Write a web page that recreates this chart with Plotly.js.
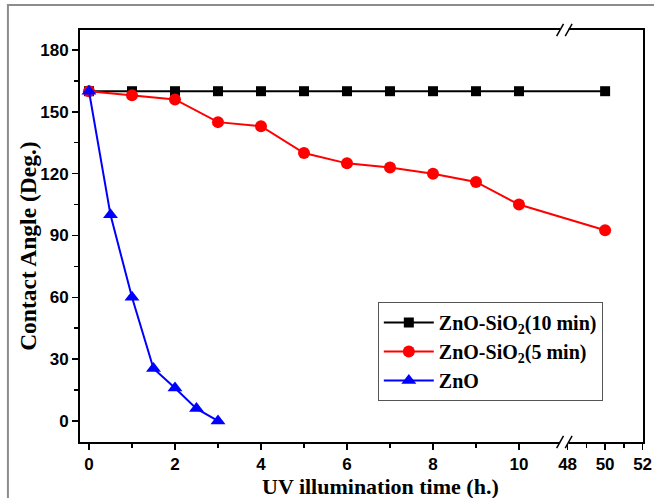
<!DOCTYPE html>
<html>
<head>
<meta charset="utf-8">
<script src="https://cdn.plot.ly/plotly-3.0.1.min.js"></script>
<style>html,body{margin:0;padding:0;background:#fff;}#chart{width:654px;height:498px;}</style>
</head>
<body>
<div id="chart"></div>
<script>
// ---- data (hours, contact angle in degrees) ----
const timeSiO2 = [0, 1, 2, 3, 4, 5, 6, 7, 8, 9, 10, 50];
const angleSiO2_10min = [160, 160, 160, 160, 160, 160, 160, 160, 160, 160, 160, 160];
const angleSiO2_5min = [160, 158, 156, 145, 143, 130, 125, 123, 120, 116, 105, 92.5];
const timeZnO = [0, 0.5, 1, 1.5, 2, 2.5, 3];
const angleZnO = [160, 100, 60, 25.5, 16, 6, 0];

const xMajorTicks = [0, 2, 4, 6, 8, 10, 48, 50, 52];
const xMinorTicks = [1, 3, 5, 7, 9, 49, 51];
const yMajorTicks = [0, 30, 60, 90, 120, 150, 180];
const yMinorTicks = [15, 45, 75, 105, 135, 165];
const seriesNames = ['ZnO-SiO<sub>2</sub>(10 min)', 'ZnO-SiO<sub>2</sub>(5 min)', 'ZnO'];
const xTitle = 'UV illumination time (h.)';
const yTitle = 'Contact Angle (Deg.)';

// ---- broken axis mapping: 0..11 linear, then 47.7..52 compressed ----
const BREAK_AT = 11, RESUME_AT = 47.7, SCALE2 = 0.436;
function bx(t) { return t <= BREAK_AT ? t : BREAK_AT + (t - RESUME_AT) * SCALE2; }

const serif = 'Liberation Serif, Times New Roman, serif';
const sans = 'Liberation Sans, Arial, sans-serif';
const tickLabel = v => '<span style="font-size:17px;font-weight:bold">' + v + '</span>';

const traces = [
  {x: timeSiO2.map(bx), y: angleSiO2_10min, name: seriesNames[0], mode: 'lines+markers',
   line: {color: '#000000', width: 2}, marker: {symbol: 'square', size: 10, color: '#000000'}},
  {x: timeSiO2.map(bx), y: angleSiO2_5min, name: seriesNames[1], mode: 'lines+markers',
   line: {color: '#ff0000', width: 2}, marker: {symbol: 'circle', size: 12, color: '#ff0000'}},
  {x: timeZnO.map(bx), y: angleZnO, name: seriesNames[2], mode: 'lines+markers',
   line: {color: '#0000ff', width: 2}, marker: {symbol: 'triangle-up', size: 13, color: '#0000ff'}}
];

// break marks
const bc = (bx(10.98) + bx(48)) / 2;
const s1 = bc - 0.1, s2 = bc + 0.1, hw = 0.08, hh = 0.0146;
const shapes = [
  {type: 'rect', xref: 'paper', yref: 'paper', x0: -0.128, x1: 1.2, y0: -0.3, y1: 1.0607,
   line: {color: '#8c8c8c', width: 2}, fillcolor: 'rgba(0,0,0,0)', layer: 'below'}
];
[0, 1].forEach(yy => {
  shapes.push({type: 'rect', xref: 'x', yref: 'paper', x0: s1, x1: s2, y0: yy - 0.006, y1: yy + 0.006,
    line: {width: 0}, fillcolor: '#ffffff', layer: 'above'});
  [s1, s2].forEach(s => shapes.push({type: 'line', xref: 'x', yref: 'paper',
    x0: s - hw, x1: s + hw, y0: yy - hh, y1: yy + hh, line: {color: '#000000', width: 1.5}, layer: 'above'}));
});

const layout = {
  width: 654, height: 498,
  margin: {l: 80, r: 11, t: 30, b: 56},
  paper_bgcolor: '#ffffff', plot_bgcolor: '#ffffff',
  font: {family: sans, size: 17, color: '#000000'},
  showlegend: true,
  legend: {x: 0.529, y: 0.34, xanchor: 'left', yanchor: 'top', bgcolor: '#ffffff',
    bordercolor: '#555555', borderwidth: 1, itemwidth: 50,
    font: {family: serif, size: 20, color: '#000000', weight: 'bold'}},
  xaxis: {
    range: [-0.209, 12.884], showgrid: false, zeroline: false,
    showline: true, linecolor: '#000000', linewidth: 2, mirror: true,
    ticks: 'outside', ticklen: 6, tickwidth: 1.5, tickcolor: '#000000',
    tickmode: 'array', tickvals: xMajorTicks.map(bx), ticktext: xMajorTicks.map(tickLabel),
    minor: {tickmode: 'array', tickvals: xMinorTicks.map(bx), ticks: 'outside', ticklen: 4, tickwidth: 1.5, tickcolor: '#000000'},
    tickfont: {family: sans, size: 17, color: '#000000', weight: 'bold'}
  },
  yaxis: {
    range: [-10.2, 189.7], showgrid: false, zeroline: false,
    showline: true, linecolor: '#000000', linewidth: 2, mirror: true,
    ticks: 'outside', ticklen: 6, tickwidth: 1.5, tickcolor: '#000000',
    tickmode: 'array', tickvals: yMajorTicks, ticktext: yMajorTicks.map(tickLabel),
    minor: {tickmode: 'array', tickvals: yMinorTicks, ticks: 'outside', ticklen: 4, tickwidth: 1.5, tickcolor: '#000000'},
    tickfont: {family: sans, size: 17, color: '#000000', weight: 'bold'}
  },
  annotations: [
    {text: xTitle, xref: 'paper', yref: 'paper', x: 0.533, y: -0.1092, xanchor: 'center', yanchor: 'middle',
     showarrow: false, font: {family: serif, size: 22, color: '#000000', weight: 'bold'}},
    {text: yTitle, xref: 'paper', yref: 'paper', x: -0.0924, y: 0.476, xanchor: 'center', yanchor: 'middle',
     textangle: -90, showarrow: false, font: {family: serif, size: 23.5, color: '#000000', weight: 'bold'}}
  ],
  shapes: shapes
};

Plotly.newPlot('chart', traces, layout, {displayModeBar: false, staticPlot: true});
</script>
</body>
</html>
